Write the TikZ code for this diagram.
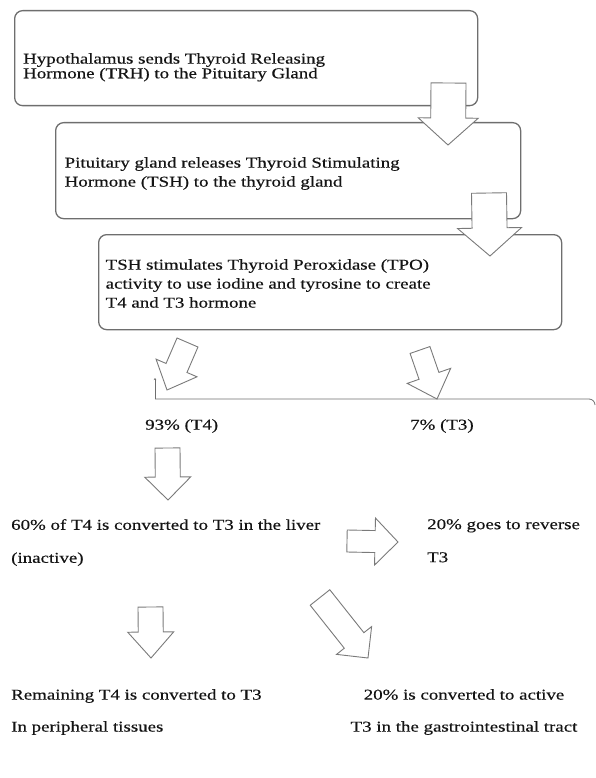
\documentclass[tikz,border=0pt]{standalone}
\usepackage{fontspec}
\setmainfont{Liberation Serif}[FakeStretch=1.26,FakeBold=0.4]
\usepackage{tikz}
\usetikzlibrary{calc,arrows.meta}
\definecolor{boxgray}{HTML}{6E6E6E}
\definecolor{arrowgray}{HTML}{7A7A7A}
\definecolor{inkgray}{HTML}{141414}
% hollow block arrow: tail, tip, shaft half width, head half width, head length
\newcommand{\hollowarrow}[5]{%
  \coordinate (hb) at ($(#2)!#5!(#1)$);
  \draw[hollow] ($(#1)!#3!90:(#2)$) -- ($(hb)!#3!-90:(#1)$) -- ($(hb)!#4!-90:(#1)$)
    -- (#2) -- ($(hb)!#4!90:(#1)$) -- ($(hb)!#3!90:(#1)$) -- ($(#1)!#3!-90:(#2)$) -- cycle;}

\begin{document}
\begin{tikzpicture}[x=1pt,y=-1pt,
  stagebox/.style={draw=boxgray, line width=1.3pt, rounded corners=8pt, anchor=north west, inner sep=0pt},
  stagetext/.style={anchor=north west, inner sep=0pt, align=left, text=inkgray, font=\fontsize{15}{19}\selectfont},
  lowtext/.style={stagetext, font=\fontsize{15}{33}\selectfont},
  hollow/.style={draw=arrowgray, line width=0.9pt, fill=white, line join=miter}]
  \useasboundingbox (0,0) rectangle (595,778);

  % Boxes of the cascade
  \node[stagebox, minimum width=463, minimum height=95] (hypbox) at (14,10) {};
  \node[stagebox, minimum width=465, minimum height=96] (pitbox) at (55,122) {};
  \node[stagebox, minimum width=463, minimum height=95] (thybox) at (98,234) {};

  \node[stagetext, font=\fontsize{15}{13}\selectfont] (hyp) at (23,53)
    {Hypothalamus sends Thyroid Releasing\\Hormone (TRH) to the Pituitary Gland};
  \node[stagetext] (pit) at (64.5,157)
    {Pituitary gland releases Thyroid Stimulating\\Hormone (TSH) to the thyroid gland};
  \node[stagetext] (thy) at (105.5,259)
    {TSH stimulates Thyroid Peroxidase (TPO)\\activity to use iodine and tyrosine to create\\T4 and T3 hormone};

  % Split line
  \coordinate (splitl) at (155,399);
  \coordinate (splitr) at (589,399);
  \coordinate (splittop) at (155,378);
  \draw[boxgray, line width=0.8pt] (splitl) -- (splitr) arc[start angle=90, end angle=0, radius=6, y radius=-6];
  \draw[boxgray, line width=0.7pt, -{Stealth[length=2pt,width=2.5pt]}] (splitl) -- (splittop);

  % Results
  \node[stagetext] (tfour) at (145,419) {93\% (T4)};
  \node[stagetext] (tthree) at (410,419) {7\% (T3)};
  \node[lowtext] (liver) at (11,519) {60\% of T4 is converted to T3 in the liver\\(inactive)};
  \node[lowtext] (reverse) at (427,519) {20\% goes to reverse\\T3};
  \node[lowtext, font=\fontsize{15}{32}\selectfont] (tissue) at (11,689) {Remaining T4 is converted to T3\\In peripheral tissues};
  \node[lowtext, font=\fontsize{15}{32}\selectfont, anchor=north, align=center] (gut) at (464,689)
    {20\% is converted to active\\T3 in the gastrointestinal tract};

  % Block arrows
  \coordinate (a1s) at (448.5,83);  \coordinate (a1e) at (448,145);
  \coordinate (a2s) at (489,193);   \coordinate (a2e) at (490,256);
  \coordinate (a3s) at (187.5,342.5); \coordinate (a3e) at (167,390);
  \coordinate (a4s) at (420,350);   \coordinate (a4e) at (437,399);
  \coordinate (a5s) at (167.5,448); \coordinate (a5e) at (168,500);
  \coordinate (a6s) at (347,541);   \coordinate (a6e) at (398,542);
  \coordinate (a7s) at (150.5,607); \coordinate (a7e) at (151,658);
  \coordinate (a8s) at (320,597.5); \coordinate (a8e) at (368,658);
  \hollowarrow{a1s}{a1e}{17.5pt}{30pt}{27pt}
  \hollowarrow{a2s}{a2e}{17.5pt}{32pt}{28pt}
  \hollowarrow{a3s}{a3e}{11.4pt}{22.3pt}{24pt}
  \hollowarrow{a4s}{a4e}{10.5pt}{23pt}{24.5pt}
  \hollowarrow{a5s}{a5e}{12.5pt}{23pt}{23pt}
  \hollowarrow{a6s}{a6e}{11pt}{23.5pt}{23pt}
  \hollowarrow{a7s}{a7e}{12.5pt}{23pt}{26pt}
  \hollowarrow{a8s}{a8e}{12.5pt}{22.4pt}{22.4pt}
\end{tikzpicture}
\end{document}
